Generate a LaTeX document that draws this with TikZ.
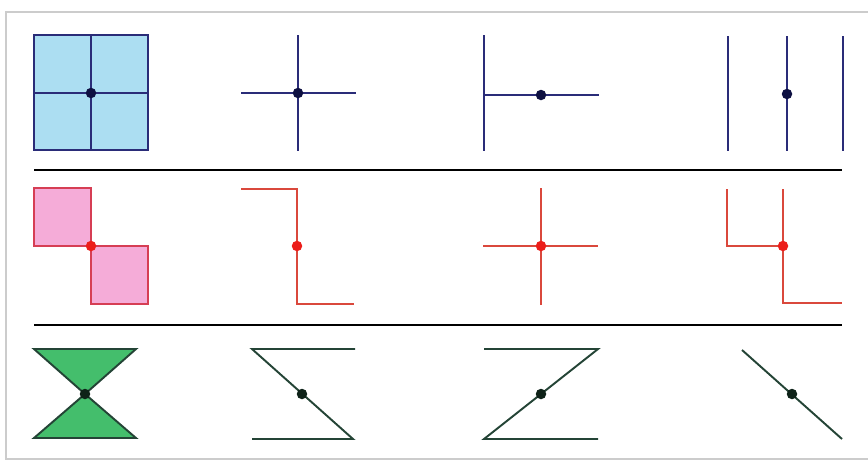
\documentclass[tikz,border=0pt]{standalone}
\usepackage{xcolor}
\usepackage{tikz}
\usetikzlibrary{calc}

\definecolor{navy}{RGB}{42,44,120}
\definecolor{navydot}{RGB}{14,16,66}
\definecolor{skyfill}{RGB}{172,222,242}
\definecolor{redln}{RGB}{218,72,60}
\definecolor{reddot}{RGB}{236,30,26}
\definecolor{pinkfill}{RGB}{245,172,216}
\definecolor{pinkln}{RGB}{214,62,84}
\definecolor{greenfill}{RGB}{68,190,108}
\definecolor{greenln}{RGB}{36,68,54}
\definecolor{greendot}{RGB}{14,34,24}

\begin{document}
\begin{tikzpicture}[
  x=0.02cm, y=-0.02cm,
  blu/.style={draw=navy, line width=1.1pt},
  rd/.style={draw=redln, line width=1.1pt},
  grn/.style={draw=greenln, line width=1.1pt},
  sep/.style={draw=black, line width=1.4pt},
  jdot/.style={circle, fill=#1, inner sep=0pt, minimum size=0.21cm}
]
  \useasboundingbox (0,0) rectangle (868,461);
  \draw[black!20, line width=0.8pt] (868,12) -- (6,12) -- (6,459) -- (868,459);

  % first row
  \coordinate (q1) at (91,93);
  \filldraw[fill=skyfill, blu] (34,35) rectangle (148,150);
  \draw[blu] (91,35) -- (91,150) (34,93) -- (148,93);
  \node[jdot=navydot] (d11) at (q1) {};

  \coordinate (q2) at (298,93);
  \draw[blu] (298,35) -- (298,151) (241,93) -- (356,93);
  \node[jdot=navydot] (d12) at (q2) {};

  \coordinate (q3) at (541,95);
  \draw[blu] (484,35) -- (484,151) (484,95) -- (599,95);
  \node[jdot=navydot] (d13) at (q3) {};

  \coordinate (q4) at (787,94);
  \foreach \x in {728,787,843}
    \draw[blu] (\x,36) -- (\x,151);
  \node[jdot=navydot] (d14) at (q4) {};

  \draw[sep] (34,170) -- (842,170);

  % second row
  \coordinate (r1) at (91,246);
  \filldraw[fill=pinkfill, draw=pinkln, line width=1.1pt] (34,188) rectangle (91,246);
  \filldraw[fill=pinkfill, draw=pinkln, line width=1.1pt] (91,246) rectangle (148,304);
  \node[jdot=reddot] (d21) at (r1) {};

  \coordinate (r2) at (297,246);
  \draw[rd] (241,189) -- (297,189) -- (297,304) -- (354,304);
  \node[jdot=reddot] (d22) at (r2) {};

  \coordinate (r3) at (541,246);
  \draw[rd] (541,188) -- (541,305) (483,246) -- (598,246);
  \node[jdot=reddot] (d23) at (r3) {};

  \coordinate (r4) at (783,246);
  \draw[rd] (727,189) -- (727,246) -- (783,246);
  \draw[rd] (783,189) -- (783,303) -- (842,303);
  \node[jdot=reddot] (d24) at (r4) {};

  \draw[sep] (34,325) -- (842,325);

  % third row
  \coordinate (s1) at (85,394);
  \filldraw[fill=greenfill, grn] (34,349) -- (136,349) -- (s1) -- cycle;
  \filldraw[fill=greenfill, grn] (34,438) -- (136,438) -- (s1) -- cycle;
  \node[jdot=greendot] (d31) at (s1) {};

  \coordinate (s2) at (302,394);
  \draw[grn] (355,349) -- (252,349) -- (353,439) -- (252,439);
  \node[jdot=greendot] (d32) at (s2) {};

  \coordinate (s3) at (541,394);
  \draw[grn] (484,349) -- (598,349) -- (484,439) -- (598,439);
  \node[jdot=greendot] (d33) at (s3) {};

  \coordinate (s4) at (792,394);
  \draw[grn] (742,350) -- (842,439);
  \node[jdot=greendot] (d34) at (s4) {};
\end{tikzpicture}
\end{document}
